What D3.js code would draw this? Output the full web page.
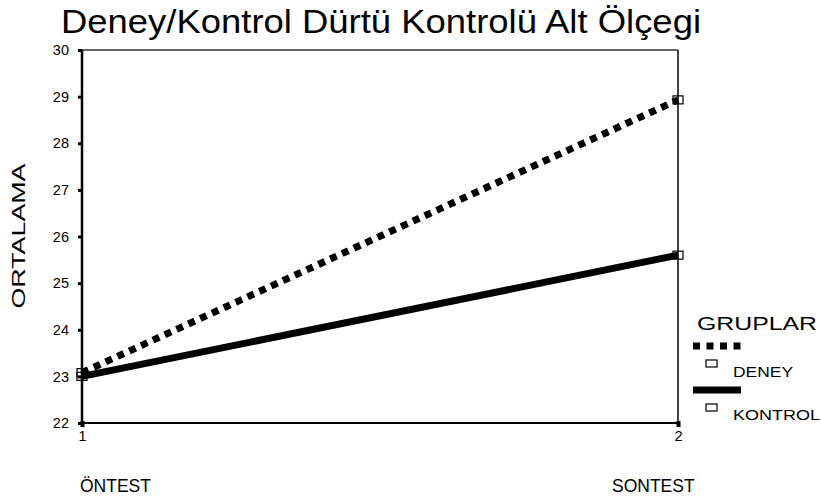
<!DOCTYPE html>
<html><head><meta charset="utf-8">
<script src="https://cdn.jsdelivr.net/npm/d3@7"></script>
<style>body{margin:0;background:#fff}svg{display:block;font-family:"Liberation Sans",Arial,sans-serif}</style>
</head><body>
<svg id="c" width="821" height="503"></svg>
<script>
const xValues = [1, 2];
const xTickLabels = ["1", "2"];
const phaseLabels = ["ÖNTEST", "SONTEST"];
const yTicks = [22, 23, 24, 25, 26, 27, 28, 29, 30];
const seriesNames = ["DENEY", "KONTROL"];
const deneyValues = [23.08, 28.93];
const kontrolValues = [23.0, 25.6];

const svg = d3.select("#c");
const L = 82, R = 678, T = 50, B = 423;
const x = d3.scaleLinear().domain([1, 2]).range([L, R]);
const y = d3.scaleLinear().domain([22, 30]).range([B, T]);

svg.append("text").attr("x", 61).attr("y", 33).attr("font-size", 33)
  .attr("textLength", 640).attr("lengthAdjust", "spacingAndGlyphs")
  .text("Deney/Kontrol Dürtü Kontrolü Alt Ölçegi");

// frame
svg.append("line").attr("x1", L).attr("x2", R).attr("y1", T).attr("y2", T).attr("stroke", "#333").attr("stroke-width", 1.5);
svg.append("line").attr("x1", R).attr("x2", R).attr("y1", T).attr("y2", B).attr("stroke", "#000").attr("stroke-width", 1.5);

const yAxis = svg.append("g").attr("transform", `translate(${L},0)`)
  .call(d3.axisLeft(y).tickValues(yTicks).tickSize(4).tickPadding(9).tickFormat(d3.format("d")));
yAxis.select(".domain").attr("stroke-width", 2.5).attr("d", `M0,${T}V${B}`);
yAxis.selectAll(".tick line").attr("stroke-width", 3);
yAxis.selectAll("text").attr("font-size", 14.5).attr("font-family", "Liberation Sans, Arial").attr("fill", "#000");

const xAxis = svg.append("g").attr("transform", `translate(0,${B})`)
  .call(d3.axisBottom(x).tickValues(xValues).tickSize(4).tickPadding(4).tickFormat((d, i) => xTickLabels[i]));
xAxis.select(".domain").attr("stroke-width", 2).attr("d", `M${L},0H${R}`);
xAxis.selectAll(".tick line").attr("stroke-width", 4).attr("y1", -2);
xAxis.selectAll("text").attr("font-size", 14.5).attr("font-family", "Liberation Sans, Arial").attr("fill", "#000");

svg.append("text").attr("x", 80).attr("y", 492).attr("font-size", 17.5).text(phaseLabels[0]);
svg.append("text").attr("x", 612).attr("y", 492).attr("font-size", 17.5).text(phaseLabels[1]);

svg.append("text").attr("transform", "translate(25,236) rotate(-90)").attr("text-anchor", "middle")
  .attr("font-size", 18).attr("textLength", 145).attr("lengthAdjust", "spacingAndGlyphs").text("ORTALAMA");

const line = d3.line().x((d, i) => x(xValues[i])).y(d => y(d));
svg.append("path").attr("d", line(kontrolValues)).attr("fill", "none").attr("stroke", "#000").attr("stroke-width", 7);
svg.append("path").attr("d", line(deneyValues)).attr("fill", "none").attr("stroke", "#000").attr("stroke-width", 7).attr("stroke-dasharray", "7,6");

const marker = (v, i) => svg.append("rect").attr("x", x(xValues[i]) - 5).attr("y", y(v) - 4).attr("width", 10).attr("height", 8)
  .attr("fill", "none").attr("stroke", "#000").attr("stroke-width", 1.2);
deneyValues.forEach(marker);
kontrolValues.forEach(marker);

// legend
svg.append("text").attr("x", 697).attr("y", 330).attr("font-size", 18)
  .attr("textLength", 120).attr("lengthAdjust", "spacingAndGlyphs").text("GRUPLAR");
svg.append("line").attr("x1", 693).attr("x2", 742).attr("y1", 346).attr("y2", 346).attr("stroke", "#000").attr("stroke-width", 7).attr("stroke-dasharray", "7,6.5");
svg.append("rect").attr("x", 706).attr("y", 360).attr("width", 11).attr("height", 7).attr("fill", "none").attr("stroke", "#000").attr("stroke-width", 1.2);
svg.append("text").attr("x", 733).attr("y", 377).attr("font-size", 14)
  .attr("textLength", 60).attr("lengthAdjust", "spacingAndGlyphs").text(seriesNames[0]);
svg.append("line").attr("x1", 693).attr("x2", 741).attr("y1", 390).attr("y2", 390).attr("stroke", "#000").attr("stroke-width", 7);
svg.append("rect").attr("x", 706).attr("y", 404).attr("width", 11).attr("height", 7).attr("fill", "none").attr("stroke", "#000").attr("stroke-width", 1.2);
svg.append("text").attr("x", 733).attr("y", 420).attr("font-size", 14)
  .attr("textLength", 87).attr("lengthAdjust", "spacingAndGlyphs").text(seriesNames[1]);
</script>
</body></html>
